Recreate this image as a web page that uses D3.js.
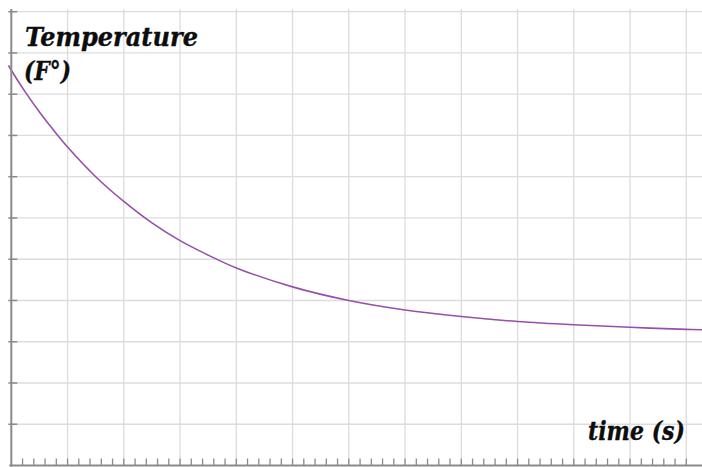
<!DOCTYPE html>
<html>
<head>
<meta charset="utf-8">
<script src="https://cdn.jsdelivr.net/npm/d3@7"></script>
<style>
  html, body { margin: 0; padding: 0; background: #fff; }
  svg { display: block; }
</style>
</head>
<body>
<svg id="chart" width="702" height="467"></svg>
<script>
// ---- data (grid units) ----
const timeValues = [-0.05, 0, 0.25, 0.5, 0.75, 1, 1.5, 2, 2.5, 3, 3.5, 4, 5, 6, 7, 8, 9, 10, 11, 12, 12.3];
const temperatureValues = [9.70, 9.58, 9.05, 8.57, 8.13, 7.72, 7.00, 6.40, 5.88, 5.45, 5.10, 4.79, 4.33, 4.00, 3.77, 3.61, 3.49, 3.41, 3.35, 3.30, 3.29];
const xGridValues = [1, 2, 3, 4, 5, 6, 7, 8, 9, 10, 11, 12];
const yGridValues = [0, 1, 2, 3, 4, 5, 6, 7, 8, 9, 10, 11];
const xMinorTicks = d3.range(0, 61).map(i => i * 0.2);
const yAxisLabel = ["Temperature", "(F°)"];
const xAxisLabel = "time (s)";

const svg = d3.select("#chart");
const W = 702, H = 467;
const x = d3.scaleLinear().domain([0, 12]).range([11.3, 686.3]);
const y = d3.scaleLinear().domain([0, 11]).range([465.5, 11.7]);

const gridColor = "#dcdcdc";
const axisColor = "#8a8a8a";

// vertical grid
svg.append("g").selectAll("line").data(xGridValues).join("line")
  .attr("x1", d => x(d)).attr("x2", d => x(d))
  .attr("y1", 9).attr("y2", y(0))
  .attr("stroke", gridColor).attr("stroke-width", 1.3);

// horizontal grid
svg.append("g").selectAll("line").data(yGridValues.filter(d => d > 0)).join("line")
  .attr("x1", x(0)).attr("x2", W)
  .attr("y1", d => y(d)).attr("y2", d => y(d))
  .attr("stroke", gridColor).attr("stroke-width", 1.3);

// curve
const line = d3.line()
  .x((d, i) => x(timeValues[i]))
  .y(d => y(d))
  .curve(d3.curveCatmullRom.alpha(0.5));
svg.append("path")
  .datum(temperatureValues)
  .attr("d", line)
  .attr("fill", "none")
  .attr("stroke", "#9750a8")
  .attr("stroke-width", 1.6);

// left axis
svg.append("line")
  .attr("x1", x(0)).attr("x2", x(0))
  .attr("y1", 9).attr("y2", y(0) + 1)
  .attr("stroke", axisColor).attr("stroke-width", 2);
svg.append("g").selectAll("line").data(yGridValues.filter(d => d > 0)).join("line")
  .attr("x1", x(0) - 3).attr("x2", x(0) + 6)
  .attr("y1", d => y(d)).attr("y2", d => y(d))
  .attr("stroke", axisColor).attr("stroke-width", 1.5);

// bottom axis
svg.append("line")
  .attr("x1", x(0) - 2).attr("x2", W)
  .attr("y1", y(0)).attr("y2", y(0))
  .attr("stroke", axisColor).attr("stroke-width", 2);
svg.append("g").selectAll("line").data(xMinorTicks.filter(d => d > 0 && x(d) < W)).join("line")
  .attr("x1", d => x(d)).attr("x2", d => x(d))
  .attr("y1", y(0) - 7).attr("y2", y(0))
  .attr("stroke", axisColor).attr("stroke-width", 1.3);

// labels
const font = "'DejaVu Serif', serif";
function label(text, lx, ly, width) {
  const t = svg.append("text")
    .attr("x", lx).attr("y", ly)
    .attr("font-family", font)
    .attr("font-weight", "bold")
    .attr("font-style", "italic")
    .attr("font-size", 25.5)
    .attr("fill", "#0d0d0d")
    .attr("stroke", "#0d0d0d")
    .attr("stroke-width", 0.35)
    .text(text);
  if (width) t.attr("textLength", width).attr("lengthAdjust", "spacingAndGlyphs");
  return t;
}
label(yAxisLabel[0], 25, 46, 173);
label(yAxisLabel[1], 24, 80, 47);
label(xAxisLabel, 588, 440, 97);
</script>
</body>
</html>
